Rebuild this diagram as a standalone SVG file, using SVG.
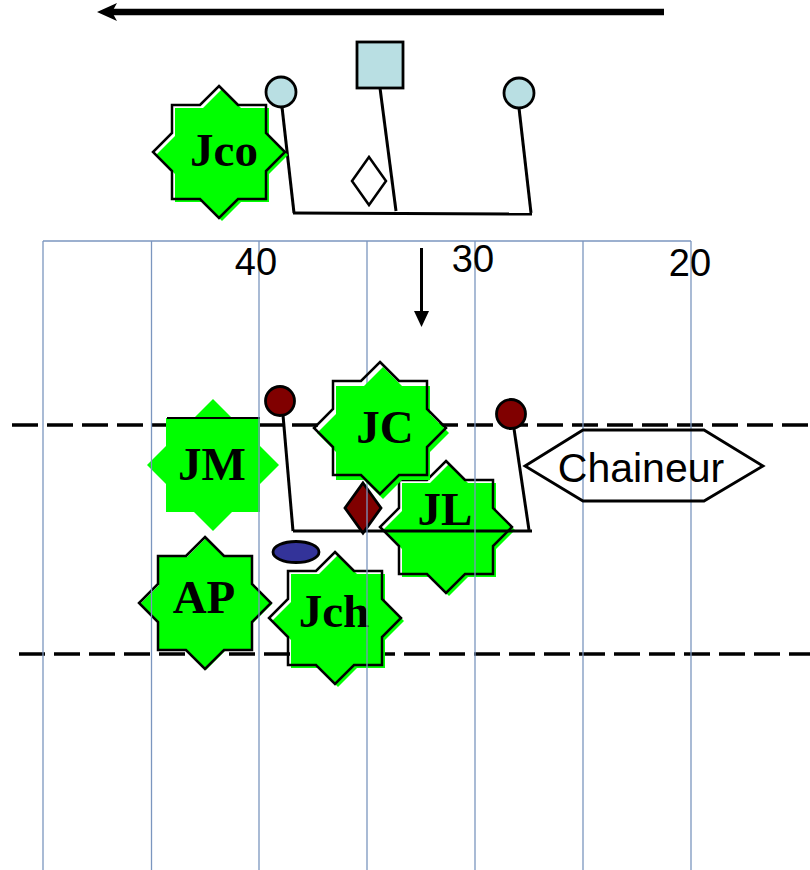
<svg xmlns="http://www.w3.org/2000/svg" xmlns:xlink="http://www.w3.org/1999/xlink" width="810" height="870" viewBox="0 0 810 870">
<style>
.grid{stroke:#7b96bf;stroke-width:1.3;fill:none}
.dash{stroke:#000;stroke-width:3.3;stroke-dasharray:26 9;fill:none}
.fill{fill:#00ff00}
.out{fill:none;stroke:#000;stroke-width:2.5;stroke-linejoin:miter}
.lbl{font-family:"Liberation Serif","Times New Roman",serif;font-weight:bold;font-size:47px;text-anchor:middle;fill:#000}
.num{font-family:"Liberation Sans",Arial,sans-serif;font-size:38px;fill:#000;text-anchor:middle}
.link{stroke:#000;stroke-width:3;fill:none}
.blue{fill:#b9dfe3;stroke:#000;stroke-width:2.8}
.red{fill:#800000;stroke:#000;stroke-width:2.8}
</style>
<defs>
<polygon id="star" points="0,-66 19,-47 47,-47 47,-19 66,0 47,19 47,47 19,47 0,66 -19,47 -47,47 -47,19 -66,0 -47,-19 -47,-47 -19,-47"/>
</defs>
<rect width="810" height="870" fill="#fff"/>

<g id="direction-arrow">
<line x1="112" y1="12" x2="664" y2="12" stroke="#000" stroke-width="6.5"/>
<polygon points="97,12 117,3 112,12 117,21" fill="#000"/>
</g>

<line class="dash" x1="12" y1="425" x2="810" y2="425"/>
<line class="dash" x1="19" y1="654" x2="810" y2="654"/>

<g id="connectors">
<line class="link" x1="282" y1="107" x2="294" y2="213"/>
<line class="link" x1="380" y1="88" x2="396" y2="211"/>
<line class="link" x1="519" y1="108" x2="531" y2="213"/>
<line class="link" x1="293" y1="213" x2="532" y2="214"/>
<line class="link" x1="283" y1="415" x2="293" y2="531"/>
<line class="link" x1="513" y1="422" x2="529" y2="530"/>
</g>

<g id="top-left-circle"><circle class="blue" cx="281" cy="92" r="15"/></g>
<g id="top-right-circle"><circle class="blue" cx="519" cy="93" r="15"/></g>
<g id="top-square"><rect class="blue" x="357" y="42" width="46" height="46"/></g>
<g id="top-diamond"><polygon points="369,157 386,181 369,205 352,181" fill="#fff" stroke="#000" stroke-width="2.5"/></g>

<g id="Jco">
<use xlink:href="#star" class="fill" transform="translate(222,155)"/>
<use xlink:href="#star" class="out" transform="translate(219,152)"/>
<text class="lbl" x="224" y="166">Jco</text>
</g>

<g id="JM">
<use xlink:href="#star" class="fill" transform="translate(213,465)"/>
<line x1="167" y1="418" x2="260" y2="418" stroke="#000" stroke-width="2"/>
<text class="lbl" x="212" y="480">JM</text>
</g>

<g id="AP">
<use xlink:href="#star" class="fill" transform="translate(206,604)"/>
<use xlink:href="#star" class="out" transform="translate(205,603)"/>
<text class="lbl" x="204" y="613">AP</text>
</g>

<g id="blue-ellipse"><ellipse cx="296" cy="552" rx="23" ry="10.5" fill="#333399" stroke="#000" stroke-width="2.8"/></g>

<g id="Jch">
<use xlink:href="#star" class="fill" transform="translate(338,621)"/>
<use xlink:href="#star" class="out" transform="translate(335,618)"/>
<text class="lbl" x="334" y="627">Jch</text>
</g>

<g id="JL">
<use xlink:href="#star" class="fill" transform="translate(449,530)"/>
<use xlink:href="#star" class="out" transform="translate(446,527)"/>
<text class="lbl" x="445" y="525">JL</text>
</g>
<line class="link" x1="293" y1="531" x2="532" y2="531"/>

<g id="left-red-circle"><circle class="red" cx="280" cy="401" r="14.5"/></g>
<g id="right-red-circle"><circle class="red" cx="511" cy="414" r="14.5"/></g>
<g id="red-diamond"><polygon class="red" points="363,483 381,508 363,533 345,508"/></g>

<g id="grid">
<line class="grid" x1="43" y1="241" x2="691" y2="241"/>
<line class="grid" x1="43" y1="241" x2="43" y2="870"/>
<line class="grid" x1="151.5" y1="241" x2="151.5" y2="870"/>
<line class="grid" x1="259" y1="241" x2="259" y2="870"/>
<line class="grid" x1="367" y1="241" x2="367" y2="870" stroke-width="1"/>
<line class="grid" x1="475" y1="241" x2="475" y2="870"/>
<line class="grid" x1="583" y1="241" x2="583" y2="870"/>
<line class="grid" x1="691" y1="241" x2="691" y2="870"/>
</g>

<g id="JC">
<use xlink:href="#star" class="fill" transform="translate(383,433)"/>
<use xlink:href="#star" class="out" transform="translate(380,428)"/>
<text class="lbl" x="385" y="443">JC</text>
</g>

<g id="numbers">
<text class="num" x="256" y="275">40</text>
<text class="num" x="473" y="272">30</text>
<text class="num" x="690" y="276">20</text>
</g>

<g id="down-arrow">
<line x1="421.5" y1="248" x2="421.5" y2="314" stroke="#000" stroke-width="3"/>
<polygon points="414,311 429,311 421.5,327" fill="#000"/>
</g>

<g id="Chaineur">
<polygon points="525,466 583,430 704,430 763,466 704,501 583,501" fill="none" stroke="#000" stroke-width="2.8"/>
<text x="641" y="482" font-family="Liberation Sans, Arial, sans-serif" font-size="41" text-anchor="middle">Chaineur</text>
</g>
</svg>
